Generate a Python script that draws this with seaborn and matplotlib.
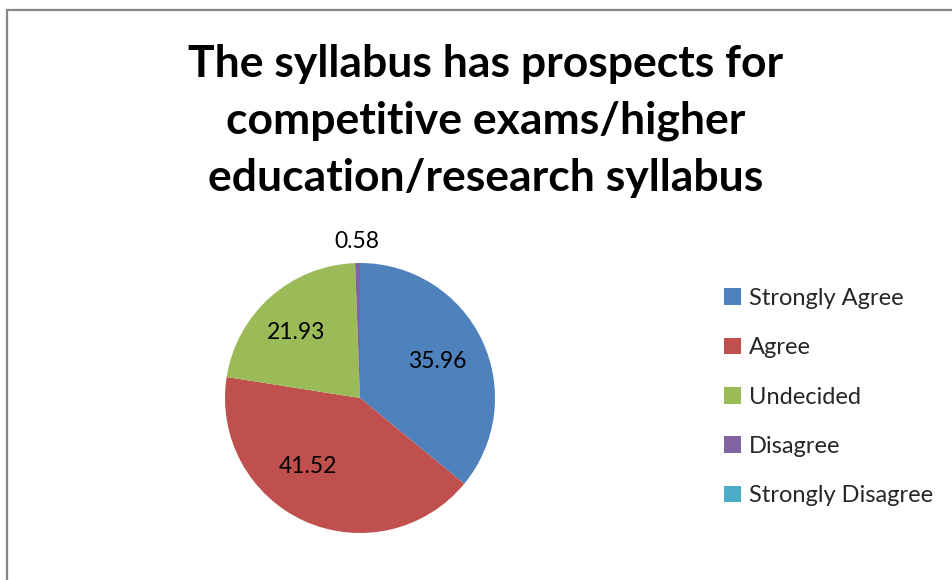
import matplotlib
matplotlib.use("Agg")
import matplotlib.pyplot as plt
from matplotlib.patches import Rectangle, Patch
import numpy as np
import seaborn as sns

sns.set_style("white")
plt.rcParams['font.family'] = ['Lato', 'DejaVu Sans']

categories = ['Strongly Agree', 'Agree', 'Undecided', 'Disagree', 'Strongly Disagree']
values = [35.96, 41.52, 21.93, 0.58, 0.0]
colors = sns.color_palette(['#4F81BD', '#C0504D', '#9BBB59', '#8064A2', '#4BACC6'])

# label placement: radial distance and angle nudge (deg) for each slice
label_dist = [0.63, 0.64, 0.68, 1.16, 0.0]
label_shift = [0, -13, 3, 0, 0]

W, H = 952, 580
fig = plt.figure(figsize=(W / 100, H / 100), dpi=100)
fig.patch.set_facecolor('white')

# pie centred at (360, 398) px, radius 135 px
cx, cy, r = 360, 398, 135
ax = fig.add_axes([(cx - r) / W, (H - cy - r) / H, 2 * r / W, 2 * r / H])
wedges, _ = ax.pie(values, colors=colors, startangle=90, counterclock=False,
                   wedgeprops=dict(linewidth=0))
ax.set_xlim(-1, 1)
ax.set_ylim(-1, 1)
ax.set_aspect('equal')
ax.axis('off')

for w, v, d, s in zip(wedges, values, label_dist, label_shift):
    if v <= 0:
        continue
    ang = np.deg2rad((w.theta1 + w.theta2) / 2 + s)
    ax.text(d * np.cos(ang), d * np.sin(ang), f'{v:.2f}', ha='center', va='center',
            fontsize=16.5, color='black', clip_on=False)

fig.text(486 / W, 1 - 121 / H,
         'The syllabus has prospects for\ncompetitive exams/higher\neducation/research syllabus',
         ha='center', va='center', fontsize=32, fontweight='bold', linespacing=1.52,
         color='black')

handles = [Patch(facecolor=c, edgecolor='none') for c in colors]
leg = fig.legend(handles, categories, loc='center left', bbox_to_anchor=(703 / W, 1 - 397 / H),
                 frameon=False, fontsize=17, handlelength=0.7, handleheight=0.7,
                 handletextpad=0.35, labelspacing=1.2)

# chart frame (left and top edges visible)
fig.patches.append(Rectangle((7 / W, -0.1), 1.1, 1.1 - 10 / H, transform=fig.transFigure,
                             fill=False, edgecolor='#878787', linewidth=1.6))

fig.savefig('out.png', dpi=100)
